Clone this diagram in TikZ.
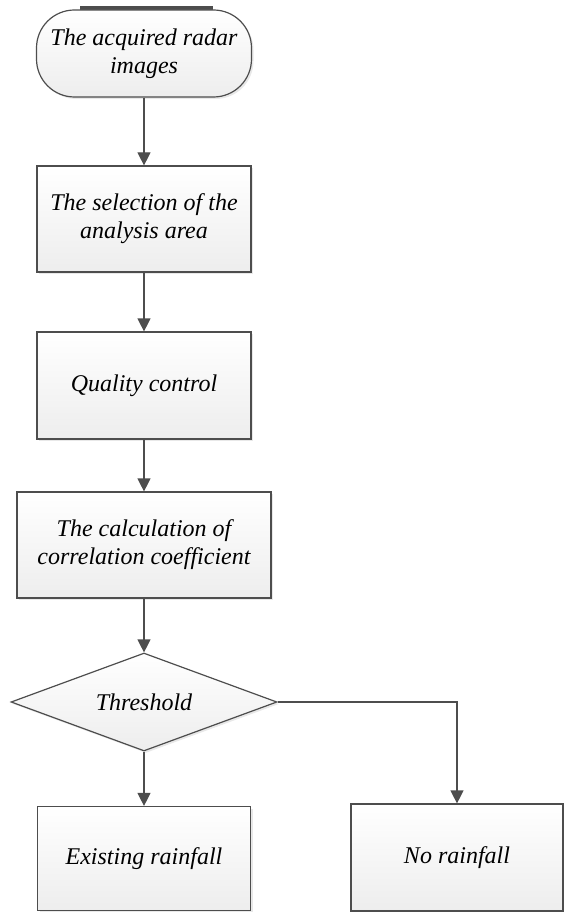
\documentclass[tikz,border=0pt]{standalone}
\usepackage{fontspec}
\setmainfont{Liberation Serif}
\usepackage{tikz}
\usetikzlibrary{arrows.meta}
\usetikzlibrary{shapes.geometric}
\usetikzlibrary{shadows}
\usetikzlibrary{positioning}
\definecolor{linha}{HTML}{4D4D4D}
\tikzset{
  bloco/.style={draw=linha, line width=1.2pt, top color=white, bottom color=gray!14,
    drop shadow={opacity=0.18, shadow xshift=2pt, shadow yshift=-2pt},
    align=center, font=\fontsize{24}{28}\selectfont\itshape, inner sep=0pt},
  caixa/.style={bloco, rectangle, minimum width=#1, minimum height=106pt},
  caixa/.default=214pt,
  terminal/.style={bloco, rectangle, rounded corners=38pt, minimum width=215pt, minimum height=87pt},
  decisao/.style={bloco, diamond, aspect=2.7, minimum width=266pt, minimum height=98pt},
  seta/.style={-{Triangle[length=13pt,width=13pt]}, draw=linha, line width=1.2pt},
}
\begin{document}
\begin{tikzpicture}[x=1pt, y=1pt]
  \useasboundingbox (0,0) rectangle (563,-912);
  \fill[linha] (80,-6) rectangle (213,-10);
  \node[terminal] (radar) at (144,-53.5) {The acquired radar\\images};
  \node[caixa] (area) at (144,-219) {The selection of the\\analysis area};
  \node[caixa, minimum height=107pt] (qualidade) at (144,-385.5) {Quality control};
  \node[caixa=254pt] (correl) at (144,-545) {The calculation of\\correlation coefficient};
  \node[decisao] (limiar) at (144,-702) {Threshold};
  \node[caixa=213pt, minimum height=104pt] (chuva) at (144,-858.5) {Existing rainfall};
  \node[caixa=212pt, minimum height=107pt] (semchuva) at (457,-857.5) {No rainfall};
  \draw[seta] (radar) -- (area);
  \draw[seta] (area) -- (qualidade);
  \draw[seta] (qualidade) -- (correl);
  \draw[seta] (correl) -- (limiar);
  \draw[seta] (limiar) -- (chuva);
  \draw[seta] (limiar.east) -| (semchuva.north);
\end{tikzpicture}
\end{document}
